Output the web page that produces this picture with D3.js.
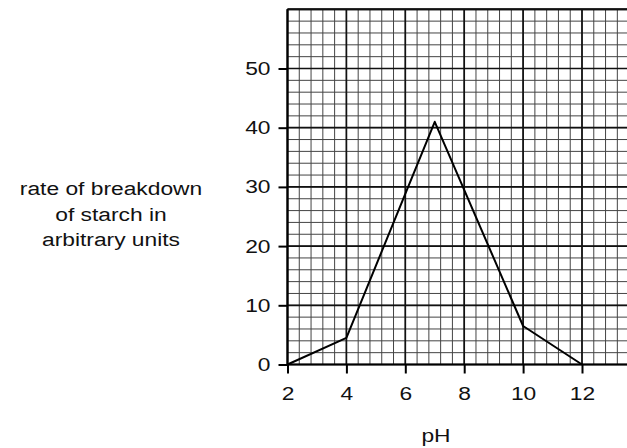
<!DOCTYPE html>
<html><head><meta charset="utf-8">
<script src="https://cdn.jsdelivr.net/npm/d3@7"></script>
<style>html,body{margin:0;padding:0;background:#fff;}svg{display:block;}</style>
</head><body>
<svg id="c" width="627" height="448"></svg>
<script>
const phValues = [2, 4, 7, 10, 12];
const rateValues = [0, 4.5, 41, 6.5, 0];
const xTickValues = [2, 4, 6, 8, 10, 12];
const yTickValues = [0, 10, 20, 30, 40, 50];
const yTitleLines = ["rate of breakdown", "of starch in", "arbitrary units"];
const xTitle = "pH";

const svg = d3.select("#c");
const x = d3.scaleLinear().domain([2, 14]).range([287.5, 287.5 + 12 * 29.45]);
const y = d3.scaleLinear().domain([0, 60]).range([364.5, 9.3]);
const font = "Liberation Sans, Arial, sans-serif";
const SX = 1.2;

const g = svg.append("g");
const minorX = d3.range(2, 14.01, 0.4);
const minorY = d3.range(0, 60.01, 2);
g.selectAll("line.mx").data(minorX).join("line")
  .attr("x1", d => x(d)).attr("x2", d => x(d)).attr("y1", y(60)).attr("y2", y(0))
  .attr("stroke", "#444").attr("stroke-width", 1);
g.selectAll("line.my").data(minorY).join("line")
  .attr("x1", x(2)).attr("x2", 627).attr("y1", d => y(d)).attr("y2", d => y(d))
  .attr("stroke", "#444").attr("stroke-width", 1);
const majorX = d3.range(2, 14.01, 2);
const majorY = d3.range(0, 60.01, 10);
g.selectAll("line.Mx").data(majorX).join("line")
  .attr("x1", d => x(d)).attr("x2", d => x(d)).attr("y1", y(60)).attr("y2", y(0))
  .attr("stroke", "#111").attr("stroke-width", 1.7);
g.selectAll("line.My").data(majorY).join("line")
  .attr("x1", x(2)).attr("x2", 627).attr("y1", d => y(d)).attr("y2", d => y(d))
  .attr("stroke", "#111").attr("stroke-width", 1.7);
g.append("line").attr("x1", x(2)).attr("x2", 627).attr("y1", y(60)).attr("y2", y(60))
  .attr("stroke", "#111").attr("stroke-width", 2);

const xAxis = d3.axisBottom(x).tickValues(xTickValues).tickSize(9).tickSizeOuter(0).tickPadding(13);
const yAxis = d3.axisLeft(y).tickValues(yTickValues).tickSize(9).tickSizeOuter(0).tickPadding(8);
const gx = svg.append("g").attr("transform", `translate(0,${y(0)})`).call(xAxis);
const gy = svg.append("g").attr("transform", `translate(${x(2)},0)`).call(yAxis);
gx.select(".domain").attr("d", `M${x(2)},0H627`).attr("stroke", "#000").attr("stroke-width", 2.2);
gy.select(".domain").attr("d", `M0,${y(60)}V${y(0)}`).attr("stroke", "#000").attr("stroke-width", 2.2);
[gx, gy].forEach(a => {
  a.selectAll(".tick line").attr("stroke", "#000").attr("stroke-width", 2);
  a.selectAll("text").attr("fill", "#111").style("font-family", font).style("font-size", "19px")
    .each(function() {
      const t = d3.select(this);
      const tx = +t.attr("x") || 0;
      t.attr("x", 0).attr("transform", `translate(${tx},0) scale(${SX},1)`);
    });
});

const pts = phValues.map((p, i) => [p, rateValues[i]]);
svg.append("path").datum(pts)
  .attr("d", d3.line().x(d => x(d[0])).y(d => y(d[1])))
  .attr("fill", "none").attr("stroke", "#000").attr("stroke-width", 2).attr("stroke-linejoin", "round");

svg.append("text").attr("transform", `translate(436,442) scale(${SX},1)`).attr("text-anchor", "middle")
  .style("font-family", font).style("font-size", "19px").attr("fill", "#111").text(xTitle);
svg.append("g").selectAll("text").data(yTitleLines).join("text")
  .attr("transform", (d, i) => `translate(111,${195 + i * 25.7}) scale(${SX},1)`).attr("text-anchor", "middle")
  .style("font-family", font).style("font-size", "19px").attr("fill", "#111").text(d => d);
</script>
</body></html>
